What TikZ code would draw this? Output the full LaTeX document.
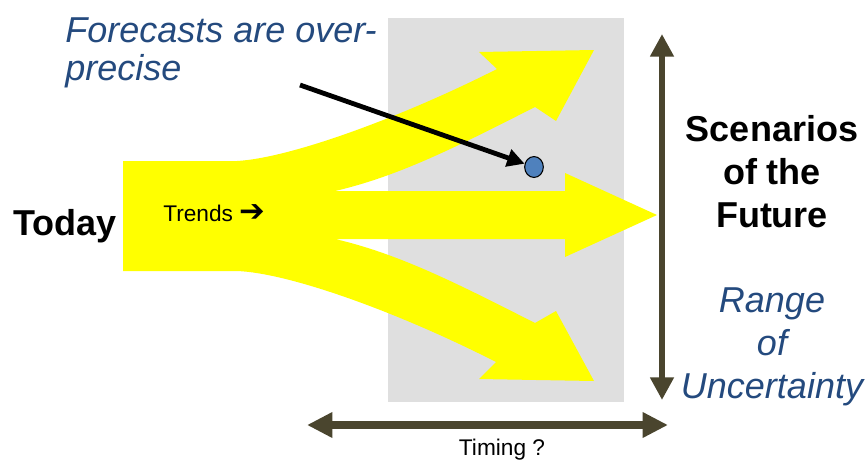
\documentclass[tikz,border=0pt]{standalone}
\usepackage{fontspec}
\setmainfont{Liberation Sans}
\newfontfamily\arrowfont{DejaVu Sans}
\usepackage{tikz}
\usetikzlibrary{arrows.meta}

\definecolor{trendyellow}{RGB}{255,255,0}
\definecolor{boxgray}{RGB}{223,223,223}
\definecolor{rangeolive}{RGB}{74,69,46}
\definecolor{noteblue}{RGB}{36,74,126}
\definecolor{dotblue}{RGB}{79,129,189}

\begin{document}
\begin{tikzpicture}[x=0.75pt, y=-0.75pt, >=Stealth,
	bigtext/.style={font=\fontsize{27}{32}\selectfont\bfseries, inner sep=0pt},
	notetext/.style={font=\fontsize{27}{32}\selectfont\itshape, text=noteblue, inner sep=0pt},
	smalltext/.style={font=\fontsize{17}{20}\selectfont, inner sep=0pt},
	rangearrow/.style={draw=rangeolive, line width=5.2pt,
		{Triangle[length=17pt, width=17pt]}-{Triangle[length=17pt, width=17pt]}}]

	\useasboundingbox (0,0) rectangle (867,464);

	% time window
	\fill[boxgray] (388,18) rectangle (624,402);

	% trends fanning out into three futures
	\fill[trendyellow] (123,161) -- (237,161)
		.. controls (290,158) and (400,118) .. (497,69)
		-- (479,52) -- (594,50) -- (556,121) -- (535,107)
		.. controls (460,145) and (400,176) .. (335,191)
		-- (565,191) -- (565,173) -- (657,215) -- (565,257) -- (565,239) -- (335,239)
		.. controls (400,254) and (460,285) .. (535,323)
		-- (556,311) -- (594,381) -- (479,379) -- (496,362)
		.. controls (400,313) and (290,273) .. (237,271)
		-- (123,271) -- cycle;

	% labels
	\node[bigtext, anchor=base west] (today) at (13,235) {Today};
	\node[smalltext, anchor=base west] (trends) at (163,221)
		{Trends {\arrowfont\bfseries\fontsize{23}{23}\selectfont ➔}};
	\node[notetext, anchor=base west, align=left,
		font=\fontsize{27}{28}\selectfont\itshape] (forecast) at (65,80) {Forecasts are over-\\precise};
	\node[bigtext, anchor=base, align=center] (scen) at (772,227) {Scenarios\\of the\\Future};
	\node[notetext, anchor=base, align=center] (range) at (772,398) {Range\\of\\Uncertainty};
	\node[smalltext, anchor=base] (timing) at (502,455) {Timing ?};

	% over-precise point forecast
	\node[circle, draw=black, fill=dotblue, line width=0.8pt,
		minimum width=14pt, inner sep=0pt, yscale=1.12] (dot) at (534,167) {};
	\coordinate (ptr) at (300,85);
	\draw[line width=3.6pt, -{Triangle[length=13pt, width=13pt]}] (ptr) -- (dot);

	% range and timing
	\coordinate (rtop) at (662,34);
	\coordinate (rbot) at (662,400);
	\draw[rangearrow] (rtop) -- (rbot);

	\coordinate (tleft) at (307,425);
	\coordinate (tright) at (668,425);
	\draw[rangearrow, line width=6pt,
		{Triangle[length=19pt, width=18pt]}-{Triangle[length=19pt, width=18pt]}] (tleft) -- (tright);

\end{tikzpicture}
\end{document}
